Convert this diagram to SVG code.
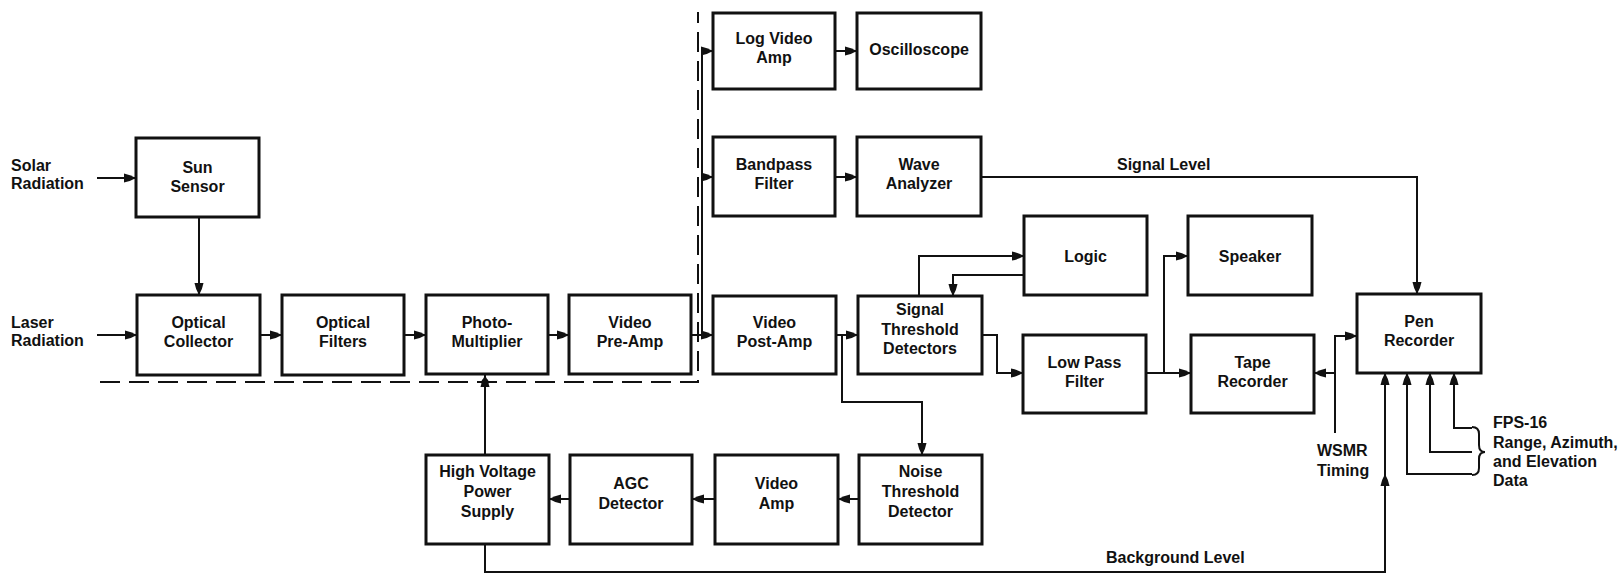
<svg xmlns="http://www.w3.org/2000/svg" width="1624" height="574" viewBox="0 0 1624 574">
<style>
.b{fill:#fff;stroke:#111;stroke-width:3}
.t{font-family:"Liberation Sans",Arial,sans-serif;font-weight:bold;font-size:16px;fill:#111;text-anchor:middle}
.l{font-family:"Liberation Sans",Arial,sans-serif;font-weight:bold;font-size:16px;fill:#111}
.c{fill:none;stroke:#111;stroke-width:2}
.a{marker-end:url(#ah)}
</style>
<defs>
<marker id="ah" markerWidth="13" markerHeight="11" refX="12" refY="5.5" orient="auto" markerUnits="userSpaceOnUse">
<path d="M0,1 Q6,2 12,5.5 Q6,9 0,10 z" fill="#111"/>
</marker>
</defs>
<rect width="1624" height="574" fill="#fff"/>
<g id="connectors">
<polyline class="c" points="100,382 698,382 698,12" stroke-width="3" stroke-dasharray="20 9"/>
<line class="c a" x1="97" y1="178" x2="136" y2="178"/>
<line class="c a" x1="97" y1="335" x2="137" y2="335"/>
<line class="c a" x1="199" y1="217" x2="199" y2="295"/>
<line class="c a" x1="260" y1="335" x2="282" y2="335"/>
<line class="c a" x1="404" y1="335" x2="426" y2="335"/>
<line class="c a" x1="548" y1="335" x2="569" y2="335"/>
<line class="c a" x1="691" y1="335" x2="713" y2="335"/>
<line class="c" x1="702" y1="51" x2="702" y2="335"/>
<line class="c a" x1="702" y1="51" x2="713" y2="51"/>
<line class="c a" x1="702" y1="177" x2="713" y2="177"/>
<line class="c a" x1="835" y1="51" x2="857" y2="51"/>
<line class="c a" x1="835" y1="177" x2="857" y2="177"/>
<polyline class="c a" points="981,177 1417,177 1417,294"/>
<line class="c a" x1="836" y1="335" x2="858" y2="335"/>
<polyline class="c a" points="842,335 842,402 922,402 922,455"/>
<polyline class="c a" points="919,296 919,256 1024,256"/>
<polyline class="c a" points="1024,275 953,275 953,296"/>
<polyline class="c a" points="982,335 997,335 997,373 1023,373"/>
<line class="c a" x1="1146" y1="373" x2="1191" y2="373"/>
<polyline class="c a" points="1164,373 1164,256 1188,256"/>
<polyline class="c a" points="1335,433 1335,336 1357,336"/>
<line class="c a" x1="1335" y1="373" x2="1314" y2="373"/>
<polyline class="c a" points="485,544 485,572 1385,572 1385,373"/>
<line class="c a" x1="1385" y1="490" x2="1385" y2="474"/>
<polyline class="c a" points="1472,428 1454,428 1454,373"/>
<polyline class="c a" points="1472,452 1430,452 1430,373"/>
<polyline class="c a" points="1472,474 1407,474 1407,373"/>
<path class="c" d="M1472,427 Q1479,427 1479,434 L1479,445 Q1479,452 1485,452 Q1479,452 1479,459 L1479,468 Q1479,475 1472,475"/>
<line class="c a" x1="859" y1="499" x2="838" y2="499"/>
<line class="c a" x1="715" y1="499" x2="692" y2="499"/>
<line class="c a" x1="570" y1="499" x2="549" y2="499"/>
<line class="c a" x1="485" y1="455" x2="485" y2="375"/>
<circle cx="485" cy="382" r="3.5" fill="#111"/>
</g>
<g id="sun-sensor"><rect class="b" x="136" y="138" width="123" height="79"/><text class="t" x="197.5" y="173">Sun</text><text class="t" x="197.5" y="192">Sensor</text></g>
<g id="optical-collector"><rect class="b" x="137" y="295" width="123" height="80"/><text class="t" x="198.5" y="328">Optical</text><text class="t" x="198.5" y="347">Collector</text></g>
<g id="optical-filters"><rect class="b" x="282" y="295" width="122" height="80"/><text class="t" x="343" y="328">Optical</text><text class="t" x="343" y="347">Filters</text></g>
<g id="photo-multiplier"><rect class="b" x="426" y="295" width="122" height="79"/><text class="t" x="487" y="328">Photo-</text><text class="t" x="487" y="347">Multiplier</text></g>
<g id="video-pre-amp"><rect class="b" x="569" y="295" width="122" height="79"/><text class="t" x="630" y="328">Video</text><text class="t" x="630" y="347">Pre-Amp</text></g>
<g id="log-video-amp"><rect class="b" x="713" y="13" width="122" height="76"/><text class="t" x="774" y="44">Log Video</text><text class="t" x="774" y="63">Amp</text></g>
<g id="oscilloscope"><rect class="b" x="857" y="13" width="124" height="76"/><text class="t" x="919" y="55">Oscilloscope</text></g>
<g id="bandpass-filter"><rect class="b" x="713" y="137" width="122" height="79"/><text class="t" x="774" y="170">Bandpass</text><text class="t" x="774" y="189">Filter</text></g>
<g id="wave-analyzer"><rect class="b" x="857" y="137" width="124" height="79"/><text class="t" x="919" y="170">Wave</text><text class="t" x="919" y="189">Analyzer</text></g>
<g id="video-post-amp"><rect class="b" x="713" y="296" width="123" height="78"/><text class="t" x="774.5" y="328">Video</text><text class="t" x="774.5" y="347">Post-Amp</text></g>
<g id="signal-threshold-detectors"><rect class="b" x="858" y="296" width="124" height="78"/><text class="t" x="920" y="315">Signal</text><text class="t" x="920" y="335">Threshold</text><text class="t" x="920" y="354">Detectors</text></g>
<g id="logic"><rect class="b" x="1024" y="216" width="123" height="79"/><text class="t" x="1085.5" y="262">Logic</text></g>
<g id="low-pass-filter"><rect class="b" x="1023" y="335" width="123" height="78"/><text class="t" x="1084.5" y="368">Low Pass</text><text class="t" x="1084.5" y="387">Filter</text></g>
<g id="speaker"><rect class="b" x="1188" y="216" width="124" height="79"/><text class="t" x="1250" y="262">Speaker</text></g>
<g id="tape-recorder"><rect class="b" x="1191" y="335" width="123" height="78"/><text class="t" x="1252.5" y="368">Tape</text><text class="t" x="1252.5" y="387">Recorder</text></g>
<g id="pen-recorder"><rect class="b" x="1357" y="294" width="124" height="79"/><text class="t" x="1419" y="327">Pen</text><text class="t" x="1419" y="346">Recorder</text></g>
<g id="noise-threshold-detector"><rect class="b" x="859" y="455" width="123" height="89"/><text class="t" x="920.5" y="477">Noise</text><text class="t" x="920.5" y="497">Threshold</text><text class="t" x="920.5" y="517">Detector</text></g>
<g id="video-amp"><rect class="b" x="715" y="455" width="123" height="89"/><text class="t" x="776.5" y="489">Video</text><text class="t" x="776.5" y="509">Amp</text></g>
<g id="agc-detector"><rect class="b" x="570" y="455" width="122" height="89"/><text class="t" x="631" y="489">AGC</text><text class="t" x="631" y="509">Detector</text></g>
<g id="hv-power-supply"><rect class="b" x="426" y="455" width="123" height="89"/><text class="t" x="487.5" y="477">High Voltage</text><text class="t" x="487.5" y="497">Power</text><text class="t" x="487.5" y="517">Supply</text></g>
<g id="labels">
<text class="l" x="11" y="171">Solar</text><text class="l" x="11" y="189">Radiation</text>
<text class="l" x="11" y="328">Laser</text><text class="l" x="11" y="346">Radiation</text>
<text class="l" x="1117" y="170">Signal Level</text>
<text class="l" x="1106" y="563">Background Level</text>
<text class="l" x="1317" y="456">WSMR</text><text class="l" x="1317" y="476">Timing</text>
<text class="l" x="1493" y="428">FPS-16</text><text class="l" x="1493" y="448">Range, Azimuth,</text><text class="l" x="1493" y="467">and Elevation</text><text class="l" x="1493" y="486">Data</text>
</g>
</svg>
